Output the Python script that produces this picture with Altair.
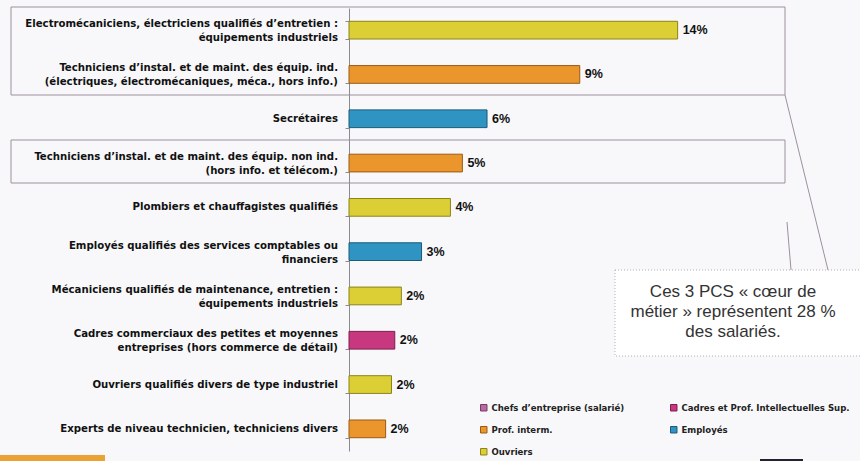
import altair as alt
import pandas as pd

labels = [
    "Electromécaniciens, électriciens qualifiés d’entretien :|équipements industriels",
    "Techniciens d’instal. et de maint. des équip. ind.|(électriques, électromécaniques, méca., hors info.)",
    "Secrétaires",
    "Techniciens d’instal. et de maint. des équip. non ind.|(hors info. et télécom.)",
    "Plombiers et chauffagistes qualifiés",
    "Employés qualifiés des services comptables ou|financiers",
    "Mécaniciens qualifiés de maintenance, entretien :|équipements industriels",
    "Cadres commerciaux des petites et moyennes|entreprises (hors commerce de détail)",
    "Ouvriers qualifiés divers de type industriel",
    "Experts de niveau technicien, techniciens divers",
]
groups = [
    "Ouvriers", "Prof. interm.", "Employés", "Prof. interm.", "Ouvriers",
    "Employés", "Ouvriers", "Cadres et Prof. Intellectuelles Sup.", "Ouvriers", "Prof. interm.",
]
values = [14.0, 9.83, 5.88, 4.83, 4.32, 3.09, 2.23, 1.95, 1.81, 1.56]
value_text = ["14%", "9%", "6%", "5%", "4%", "3%", "2%", "2%", "2%", "2%"]

legend_order = [
    "Chefs d’entreprise (salarié)",
    "Cadres et Prof. Intellectuelles Sup.",
    "Prof. interm.",
    "Employés",
    "Ouvriers",
]
fill_colors = ["#b86aa2", "#c8387f", "#eb962c", "#2f94c2", "#dccf36"]
stroke_colors = ["#7a3a68", "#7e1d4e", "#9a5a12", "#1b5a78", "#8c8418"]

callout_lines = ["Ces 3 PCS « cœur de", "métier » représentent 28 %", "des salariés."]

df = pd.DataFrame({"label": labels, "group": groups, "value": values, "pct": value_text})
one = pd.DataFrame({"a": [0]})

NARROW = "Liberation Sans Narrow, Arial Narrow, DejaVu Sans Condensed, sans-serif"
BOXC = "#9d8f9e"

y_scale = alt.Scale(paddingInner=0.6, paddingOuter=0.3)
y_enc = alt.Y(
    "label:N",
    sort=labels,
    scale=y_scale,
    axis=alt.Axis(
        title=None,
        labels=False,
        tickSize=4,
        tickBand="extent",
        tickColor="#8a8a90",
        domainColor="#8a8a90",
        grid=False,
    ),
)
y_plain = alt.Y("label:N", sort=labels)
x_enc = alt.X("value:Q", scale=alt.Scale(domain=[0, 21.3], nice=False, zero=True), axis=None)

bars = alt.Chart(df).mark_bar(strokeWidth=1).encode(
    y=y_enc,
    x=x_enc,
    color=alt.Color(
        "group:N",
        scale=alt.Scale(domain=legend_order, range=fill_colors),
        legend=alt.Legend(
            title=None,
            orient="none",
            direction="horizontal",
            legendX=130,
            legendY=395,
            columns=2,
            columnPadding=43,
            rowPadding=11,
            symbolType="square",
            symbolSize=42,
            symbolStrokeWidth=1,
            labelFont=NARROW,
            labelFontSize=9.5,
            labelFontWeight="bold",
            labelColor="#222222",
            labelOffset=3,
            padding=0,
            labelLimit=300,
        ),
    ),
    stroke=alt.Stroke("group:N", scale=alt.Scale(domain=legend_order, range=stroke_colors), legend=None),
)

label_style = dict(align="right", baseline="middle", font=NARROW, fontSize=11.3, fontWeight="bold", color="#111111")
label_base = alt.Chart(df).transform_calculate(
    parts="split(datum.label, '|')",
).transform_calculate(
    l1="datum.parts[0]",
    l2="length(datum.parts) > 1 ? datum.parts[1] : ''",
    n="length(datum.parts)",
)
lab_single = label_base.transform_filter("datum.n == 1").mark_text(**label_style).encode(
    y=y_plain, x=alt.value(-11), text="l1:N"
)
lab_top = label_base.transform_filter("datum.n > 1").mark_text(dy=-6, **label_style).encode(
    y=y_plain, x=alt.value(-11), text="l1:N"
)
lab_bot = label_base.transform_filter("datum.n > 1").mark_text(dy=8, **label_style).encode(
    y=y_plain, x=alt.value(-11), text="l2:N"
)

texts = alt.Chart(df).mark_text(
    align="left", baseline="middle", dx=5, font="Liberation Sans", fontSize=12.5, fontWeight="bold", color="#111111"
).encode(y=y_plain, x="value:Q", text="pct:N")

box1 = alt.Chart(one).mark_rect(fillOpacity=0, stroke=BOXC, strokeWidth=1).encode(
    x=alt.value(-338), x2=alt.value(436), y=alt.value(-1), y2=alt.value(87)
)
box2 = alt.Chart(one).mark_rect(fillOpacity=0, stroke=BOXC, strokeWidth=1).encode(
    x=alt.value(-338), x2=alt.value(436), y=alt.value(132), y2=alt.value(175)
)
line1 = alt.Chart(one).mark_rule(stroke=BOXC, strokeWidth=1).encode(
    x=alt.value(436), x2=alt.value(479), y=alt.value(87), y2=alt.value(262)
)
line2 = alt.Chart(one).mark_rule(stroke=BOXC, strokeWidth=1).encode(
    x=alt.value(438), x2=alt.value(442), y=alt.value(214), y2=alt.value(262)
)
callout_box = alt.Chart(one).mark_rect(
    fill="#ffffff", stroke="#b0b0b0", strokeWidth=1, strokeDash=[1, 2]
).encode(x=alt.value(266), x2=alt.value(530), y=alt.value(262), y2=alt.value(348))
callout_text = alt.Chart(one).mark_text(
    text=callout_lines, align="center", baseline="middle", font="Liberation Sans",
    fontSize=17, lineHeight=20, color="#333333"
).encode(x=alt.value(384), y=alt.value(284))

strip = alt.Chart(one).mark_rect(fill="#e9a233").encode(
    x=alt.value(-349), x2=alt.value(-244), y=alt.value(447), y2=alt.value(453)
)
strip2 = alt.Chart(one).mark_rect(fill="#222230").encode(
    x=alt.value(411), x2=alt.value(454), y=alt.value(451), y2=alt.value(453)
)

chart = alt.layer(
    box1, box2, line1, line2, callout_box, callout_text, bars, texts,
    lab_single, lab_top, lab_bot, strip, strip2
).properties(
    width=500,
    height=443,
    padding={"left": 349, "top": 8, "right": 11, "bottom": 10},
    autosize=alt.AutoSizeParams(type="none"),
).configure(background="#f8f8fa").configure_view(stroke=None)

chart.save("out.html", embed_options={"renderer": "svg", "actions": False})
